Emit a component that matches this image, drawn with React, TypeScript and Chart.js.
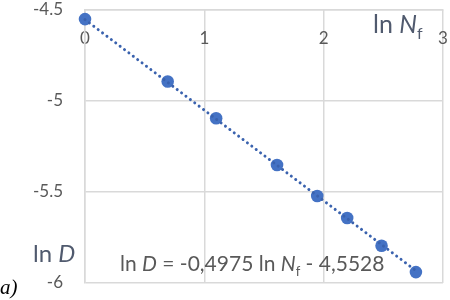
import React, { useEffect, useRef } from "react";
import { Chart, registerables } from "chart.js";

Chart.register(...registerables);

// data
const lnNf: number[] = [0, 0.693, 1.099, 1.609, 1.946, 2.197, 2.485, 2.773];
const lnD: number[] = [-4.55, -4.893, -5.095, -5.352, -5.522, -5.643, -5.795, -5.94];
// trendline coefficients shown in the equation
const slope = -0.4975;
const intercept = -4.5528;
const xTicks: number[] = [0, 1, 2, 3];
const yTicks: number[] = [-6, -5.5, -5, -4.5];
const yTickLabels: string[] = ["-6", "-5.5", "-5", "-4.5"];

const FONT = "Lato";
const GRID = "#D9D9D9";
const BLUE = "#4472C4";

type Run = { t: string; italic?: boolean; sub?: boolean };

function drawRuns(ctx: CanvasRenderingContext2D, runs: Run[], x: number, y: number, size: number, color: string) {
  ctx.save();
  ctx.fillStyle = color;
  ctx.textBaseline = "alphabetic";
  ctx.textAlign = "left";
  let cx = x;
  for (const r of runs) {
    const s = r.sub ? Math.round(size * 0.62) : size;
    ctx.font = `${r.italic ? "italic " : ""}${s}px ${FONT}`;
    const dy = r.sub ? size * 0.22 : 0;
    ctx.fillText(r.t, cx, y + dy);
    cx += ctx.measureText(r.t).width;
  }
  ctx.restore();
}

const textPlugin = {
  id: "texts",
  afterDraw(chart: any) {
    const ctx = chart.ctx as CanvasRenderingContext2D;
    drawRuns(ctx, [{ t: "ln " }, { t: "N", italic: true }, { t: "f", sub: true }], 373, 33, 25, "#505A6E");
    drawRuns(ctx, [{ t: "ln " }, { t: "D", italic: true }], 33, 262, 24, "#505A6E");
    drawRuns(
      ctx,
      [
        { t: "ln " },
        { t: "D", italic: true },
        { t: " = -0,4975 ln " },
        { t: "N", italic: true },
        { t: "f", sub: true },
        { t: " - 4,5528" },
      ],
      120,
      271,
      21,
      "#595959"
    );
    ctx.save();
    ctx.fillStyle = "#000";
    ctx.font = "italic 21px 'Liberation Serif'";
    ctx.textBaseline = "alphabetic";
    ctx.fillText("a)", 0, 294);
    ctx.restore();
  },
};

export default function App() {
  const ref = useRef<HTMLCanvasElement | null>(null);
  useEffect(() => {
    if (!ref.current) return;
    const xEnd = lnNf[lnNf.length - 1];
    const chart = new Chart(ref.current, {
      type: "scatter",
      data: {
        datasets: [
          {
            label: "trend",
            data: [
              { x: 0, y: intercept },
              { x: xEnd, y: intercept + slope * xEnd },
            ],
            showLine: true,
            borderColor: "#3A62AE",
            borderWidth: 3,
            borderDash: [0.01, 5.5],
            borderCapStyle: "round",
            pointRadius: 0,
            clip: false,
          } as any,
          {
            label: "data",
            data: lnNf.map((x, i) => ({ x, y: lnD[i] })),
            pointRadius: 6.3,
            pointBackgroundColor: BLUE,
            pointBorderColor: BLUE,
            pointBorderWidth: 0,
            showLine: false,
            clip: false,
          } as any,
        ],
      },
      options: {
        responsive: false,
        animation: false,
        layout: { padding: { left: 0, top: 10, right: 7, bottom: 17 } },
        plugins: { legend: { display: false }, tooltip: { enabled: false } },
        scales: {
          x: {
            type: "linear",
            position: { y: -4.5 } as any,
            min: 0,
            max: 3,
            afterBuildTicks: (s: any) => {
              s.ticks = xTicks.map((v) => ({ value: v }));
            },
            afterFit: (s: any) => {
              s.height = 0;
              s.paddingLeft = 0;
              s.paddingRight = 0;
              s.paddingTop = 0;
              s.paddingBottom = 0;
            },
            grid: { color: GRID, lineWidth: 1.5, drawTicks: false },
            border: { color: GRID, width: 1.5 },
            ticks: { color: "#595959", font: { family: FONT, size: 17 }, padding: 18 },
          },
          y: {
            type: "linear",
            position: "left",
            min: -6,
            max: -4.5,
            afterBuildTicks: (s: any) => {
              s.ticks = yTicks.map((v) => ({ value: v }));
            },
            afterFit: (s: any) => {
              s.width = 85;
              s.paddingTop = 0;
              s.paddingBottom = 0;
            },
            grid: { color: GRID, lineWidth: 1.5, drawTicks: false },
            border: { color: GRID, width: 1.5 },
            ticks: {
              color: "#595959",
              font: { family: FONT, size: 17 },
              padding: 22,
              callback: (v: any) => {
                const i = yTicks.indexOf(Number(v));
                return i >= 0 ? yTickLabels[i] : "";
              },
            },
          },
        },
      },
      plugins: [textPlugin],
    });
    return () => chart.destroy();
  }, []);
  return (
    <div style={{ position: "fixed", left: 0, top: 0, width: 450, height: 300, background: "#fff" }}>
      <canvas ref={ref} width={450} height={300} />
    </div>
  );
}
